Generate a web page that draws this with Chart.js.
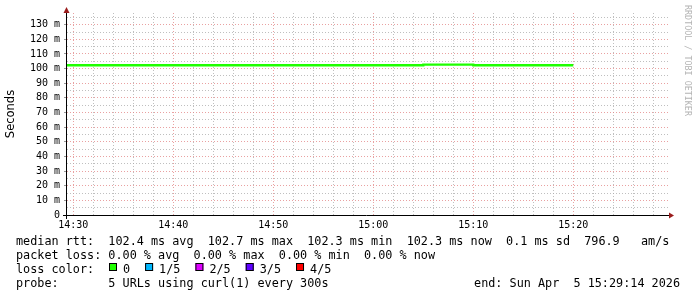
<!DOCTYPE html>
<html>
<head>
  <title>Smokeping median RTT</title>
  <script src="https://cdn.jsdelivr.net/npm/chart.js"></script>
  <style>
    body { margin: 0; background: #fff; }
    canvas { display: block; }
  </style>
</head>
<body>
  <canvas id="rttChart" width="697" height="297"></canvas>
  <script>
  // minutes after 14:00, end of each 5 min step (RRD style: value covers the step before it)
  const stepMinutes = [25, 30, 35, 40, 45, 50, 55, 60, 65, 70, 75, 80];
  const medianRtt = [102.3, 102.3, 102.3, 102.3, 102.3, 102.3, 102.3, 102.3, 102.3, 102.7, 102.3, 102.3];

  const xMin = 29.37, xMax = 89.57;   // 14:29:22 .. 15:29:34
  const yMax = 138;

  const lossLabels = ['0', '1/5', '2/5', '3/5', '4/5'];
  const lossColors = ['#20ff00', '#00b8ff', '#dd00ff', '#5e00ff', '#ff0000'];

  const legendLines = [
    'median rtt:  102.4 ms avg  102.7 ms max  102.3 ms min  102.3 ms now  0.1 ms sd  796.9   am/s',
    'packet loss: 0.00 % avg  0.00 % max  0.00 % min  0.00 % now',
    'loss color:',
    'probe:       5 URLs using curl(1) every 300s'
  ];
  const endStamp = 'end: Sun Apr  5 15:29:14 2026';
  const watermark = 'RRDTOOL / TOBI OETIKER';

  const mono = 'DejaVu Sans Mono';
  const minorGrid = 'rgba(170,170,170,0.75)';
  const majorGrid = 'rgba(225,130,130,0.75)';

  function isMajor(v) {
    const r = Math.round(v);
    return Math.abs(v - r) < 1e-6 && r % 10 === 0;
  }

  function timeLabel(v) {
    const m = Math.round(v);
    const h = 14 + Math.floor(m / 60);
    const mm = m % 60;
    return h + ':' + (mm < 10 ? '0' : '') + mm;
  }

  const rrdDecor = {
    id: 'rrdDecor',
    afterDraw(chart) {
      const ctx = chart.ctx;
      const a = chart.chartArea;
      ctx.save();

      // axes
      ctx.strokeStyle = '#000';
      ctx.lineWidth = 1;
      ctx.beginPath();
      ctx.moveTo(a.left - 4, a.bottom + 0.5);
      ctx.lineTo(a.right + 1, a.bottom + 0.5);
      ctx.moveTo(a.left - 0.5, a.bottom + 4);
      ctx.lineTo(a.left - 0.5, a.top - 2);
      ctx.stroke();

      // arrow heads
      ctx.fillStyle = '#9a1c1c';
      ctx.beginPath();
      ctx.moveTo(a.left - 0.5, a.top - 6);
      ctx.lineTo(a.left - 3.5, a.top);
      ctx.lineTo(a.left + 2.5, a.top);
      ctx.closePath();
      ctx.fill();
      ctx.beginPath();
      ctx.moveTo(a.right + 5, a.bottom + 0.5);
      ctx.lineTo(a.right, a.bottom - 2.5);
      ctx.lineTo(a.right, a.bottom + 3.5);
      ctx.closePath();
      ctx.fill();

      // legend text
      ctx.fillStyle = '#000';
      ctx.font = '11.8px "' + mono + '"';
      ctx.textBaseline = 'alphabetic';
      ctx.textAlign = 'left';
      legendLines.forEach((line, i) => ctx.fillText(line, 16, 245 + i * 14));
      ctx.textAlign = 'right';
      ctx.fillText(endStamp, 680, 287);

      // loss colour boxes
      ctx.textAlign = 'left';
      let x = 109;
      lossLabels.forEach((lab, i) => {
        ctx.fillStyle = lossColors[i];
        ctx.fillRect(x, 263, 8, 8);
        ctx.strokeStyle = '#000';
        ctx.strokeRect(x + 0.5, 263.5, 7, 7);
        ctx.fillStyle = '#000';
        ctx.fillText(lab, x + 14, 273);
        x += 14 + ctx.measureText(lab).width + 15;
      });

      // watermark
      ctx.translate(687, 5);
      ctx.rotate(Math.PI / 2);
      ctx.fillStyle = '#b4b4b4';
      ctx.font = '8.4px "' + mono + '"';
      ctx.textBaseline = 'middle';
      ctx.fillText(watermark, 0, 0);
      ctx.restore();
    }
  };

  const rttCtx = document.getElementById('rttChart').getContext('2d');

  const rttChart = new Chart(rttCtx, {
    type: 'line',
    data: {
      datasets: [{
        label: 'median rtt',
        data: stepMinutes.map((t, i) => ({ x: t, y: medianRtt[i] })),
        borderColor: lossColors[0],
        borderWidth: 2.3,
        pointRadius: 0,
        stepped: 'after',
        fill: false
      }]
    },
    options: {
      responsive: false,
      animation: false,
      devicePixelRatio: 1,
      layout: { padding: { top: 13, right: 28, bottom: 0, left: 0 } },
      plugins: { legend: { display: false }, tooltip: { enabled: false } },
      scales: {
        x: {
          type: 'linear',
          min: xMin,
          max: xMax,
          afterFit: s => { s.height = 82; },
          ticks: {
            stepSize: 2,
            includeBounds: false,
            autoSkip: false,
            maxRotation: 0,
            padding: 2,
            color: '#000',
            font: { family: mono, size: 10 },
            callback: v => isMajor(v) ? timeLabel(v) : ''
          },
          grid: {
            color: c => (c.tick && isMajor(c.tick.value)) ? majorGrid : minorGrid,
            tickLength: 2,
            tickColor: 'rgba(0,0,0,0)'
          },
          border: { display: false, dash: [1, 2] }
        },
        y: {
          min: 0,
          max: yMax,
          afterFit: s => { s.width = 67; },
          ticks: {
            stepSize: 5,
            includeBounds: false,
            autoSkip: false,
            padding: 4,
            color: '#000',
            font: { family: mono, size: 10 },
            callback: v => isMajor(v) ? (v === 0 ? '0' : v + ' m') : ''
          },
          grid: {
            color: c => (c.tick && isMajor(c.tick.value)) ? majorGrid : minorGrid,
            tickLength: 3,
            tickColor: c => (c.tick && isMajor(c.tick.value)) ? '#999' : 'rgba(0,0,0,0)'
          },
          border: { display: false, dash: [1, 2] },
          title: {
            display: true,
            text: 'Seconds',
            color: '#000',
            font: { family: 'DejaVu Sans', size: 11.5 },
            padding: { top: 4, bottom: 0 }
          }
        }
      }
    },
    plugins: [rrdDecor]
  });
</script>

</body>
</html>
